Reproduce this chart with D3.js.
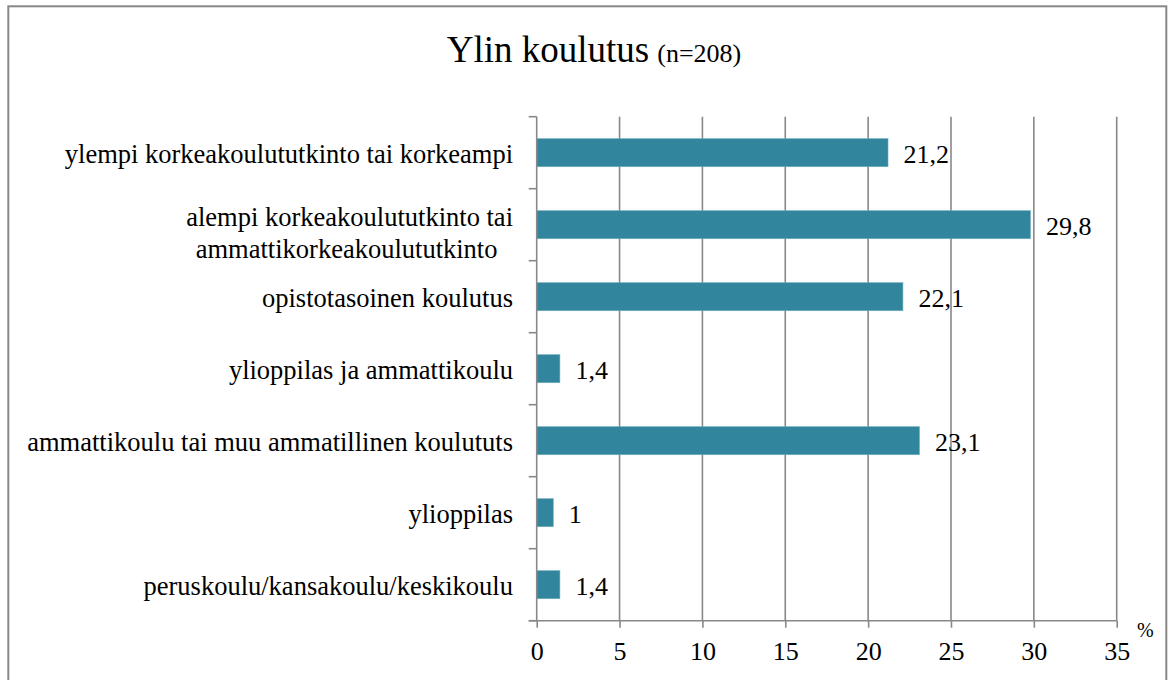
<!DOCTYPE html>
<html>
<head>
<meta charset="utf-8">
<script src="https://cdn.jsdelivr.net/npm/d3@7"></script>
<style>
  html, body { margin: 0; padding: 0; background: #fff; }
  svg { display: block; }
  svg text { font-family: "Liberation Serif", "Times New Roman", serif !important; fill: #000; }
</style>
</head>
<body>
<svg id="chart" width="1175" height="680"></svg>
<script>
// ---- data ----
const categories = [
  "ylempi korkeakoulututkinto tai korkeampi",
  "alempi korkeakoulututkinto tai\nammattikorkeakoulututkinto",
  "opistotasoinen koulutus",
  "ylioppilas ja ammattikoulu",
  "ammattikoulu tai muu ammatillinen koulututs",
  "ylioppilas",
  "peruskoulu/kansakoulu/keskikoulu"
];
const values = [21.2, 29.8, 22.1, 1.4, 23.1, 1, 1.4];
const xTicks = [0, 5, 10, 15, 20, 25, 30, 35];
const titleMain = "Ylin koulutus";
const titleSub = "(n=208)";
const unitLabel = "%";

// ---- layout ----
const FONT = "'Liberation Serif', 'Times New Roman', serif";
const svg = d3.select("#chart");
const barColor = "#31859C";
const gridColor = "#888888";

svg.append("rect")
  .attr("x", 8.3).attr("y", 6.3)
  .attr("width", 1158).attr("height", 720)
  .attr("fill", "#fff").attr("stroke", "#888").attr("stroke-width", 2);

const x = d3.scaleLinear().domain([0, 35]).range([536.7, 1116.7]);
const y = d3.scaleBand().domain(categories).range([116.7, 620.7])
  .paddingInner(0.61).paddingOuter(0.305);

const fmt = v => String(v).replace(".", ",");

// title
const title = svg.append("text")
  .attr("x", 594).attr("y", 61.7)
  .attr("text-anchor", "middle")
  .style("font-family", FONT);
title.append("tspan").attr("font-size", 37).text(titleMain);
title.append("tspan").attr("font-size", 26).attr("dx", 8).text(titleSub);

// gridlines
svg.append("g").selectAll("line")
  .data(xTicks.filter(d => d > 0))
  .join("line")
  .attr("x1", d => x(d)).attr("x2", d => x(d))
  .attr("y1", y.range()[0]).attr("y2", y.range()[1])
  .attr("stroke", gridColor).attr("stroke-width", 1.6);

// bars
svg.append("g").selectAll("rect")
  .data(categories)
  .join("rect")
  .attr("x", x(0))
  .attr("y", d => y(d))
  .attr("width", (d, i) => x(values[i]) - x(0))
  .attr("height", y.bandwidth())
  .attr("fill", barColor)
  .attr("stroke", "#6fb0c2").attr("stroke-width", 0.6);

// y axis line + ticks at band boundaries
const yAxisG = svg.append("g");
yAxisG.append("line")
  .attr("x1", x(0)).attr("x2", x(0))
  .attr("y1", y.range()[0]).attr("y2", y.range()[1])
  .attr("stroke", gridColor).attr("stroke-width", 1.6);
yAxisG.selectAll("line.tk")
  .data(d3.range(categories.length + 1))
  .join("line").attr("class", "tk")
  .attr("x1", x(0) - 8).attr("x2", x(0))
  .attr("y1", i => y.range()[0] + i * y.step())
  .attr("y2", i => y.range()[0] + i * y.step())
  .attr("stroke", gridColor).attr("stroke-width", 1.6);

// x axis
const xAxis = d3.axisBottom(x).tickValues(xTicks).tickSize(7).tickPadding(13.8)
  .tickFormat(d3.format("d"));
const xg = svg.append("g")
  .attr("transform", `translate(0,${y.range()[1]})`)
  .call(xAxis)
  .attr("font-family", FONT);
xg.select(".domain").attr("stroke", gridColor).attr("stroke-width", 1.6)
  .attr("d", `M${x(0) - 8},0H${x(35)}`);
xg.selectAll(".tick line").attr("stroke", gridColor).attr("stroke-width", 1.6);
xg.selectAll(".tick text")
  .style("font-family", FONT)
  .attr("font-size", 26).attr("fill", "#000");

// unit label
svg.append("text")
  .attr("x", 1137).attr("y", 636.7)
  .style("font-family", FONT)
  .attr("font-size", 20).text(unitLabel);

// category labels
const labelRight = 513;
const catG = svg.append("g");
categories.forEach((c, i) => {
  const cy = y(c) + y.bandwidth() / 2;
  const lines = c.split("\n");
  if (lines.length === 1) {
    catG.append("text")
      .attr("x", labelRight).attr("y", cy + 10.3)
      .attr("text-anchor", "end")
      .style("font-family", FONT).style("font-size", "26.5px")
      .text(lines[0]);
  } else {
    const t1 = catG.append("text")
      .attr("x", labelRight).attr("y", cy + 1.7)
      .attr("text-anchor", "end")
      .style("font-family", FONT).style("font-size", "26.5px")
      .text(lines[0]);
    const w1 = t1.node().getComputedTextLength();
    catG.append("text")
      .attr("x", labelRight - w1 / 2 - 3).attr("y", cy + 33.3)
      .attr("text-anchor", "middle")
      .style("font-family", FONT).style("font-size", "26.5px")
      .text(lines[1]);
  }
});

// value labels
svg.append("g").selectAll("text")
  .data(categories)
  .join("text")
  .attr("x", (d, i) => x(values[i]) + 15.5)
  .attr("y", d => y(d) + y.bandwidth() / 2 + 10.3)
  .style("font-family", FONT).style("font-size", "26px")
  .text((d, i) => fmt(values[i]));
</script>
</body>
</html>
